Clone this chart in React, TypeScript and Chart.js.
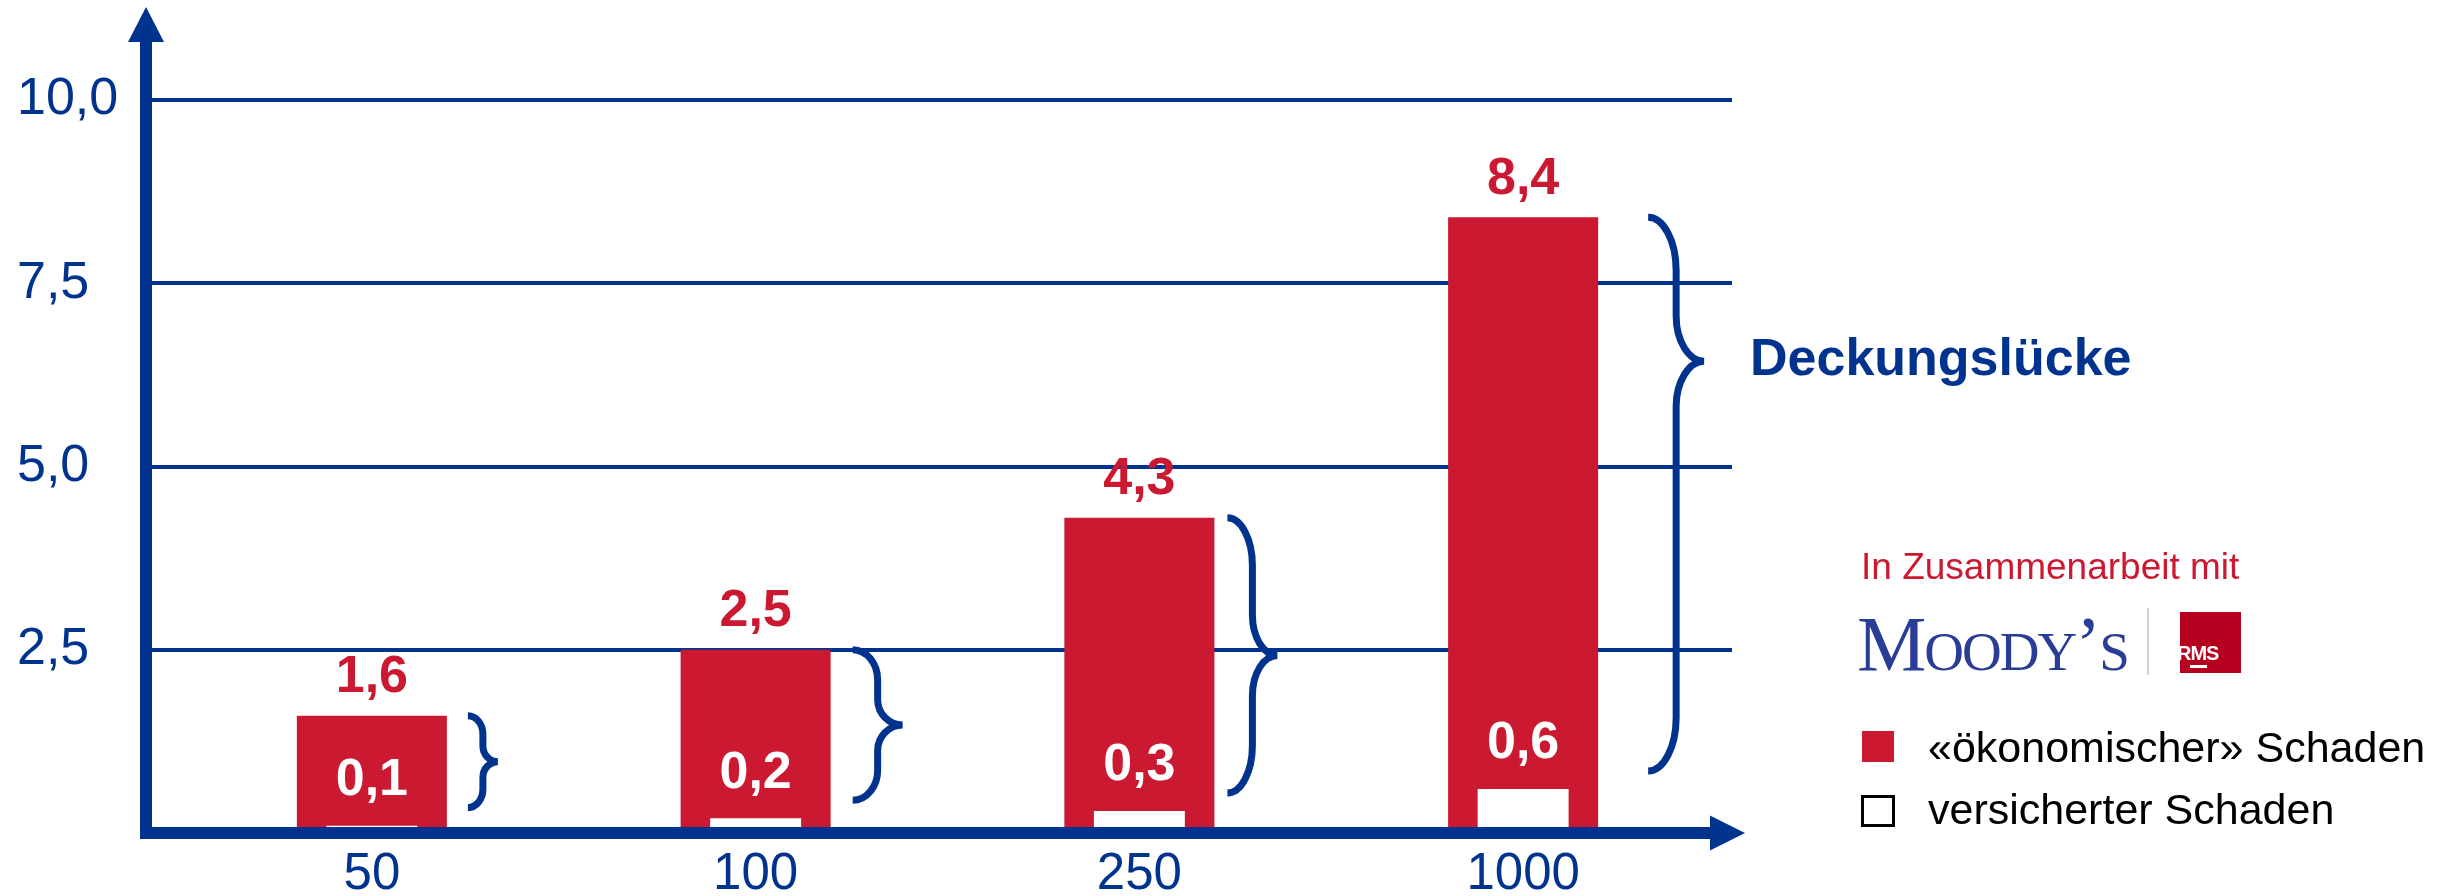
import React, { useEffect, useRef } from 'react';
import { Chart, registerables } from 'chart.js';

Chart.register(...registerables);

// ---------- data ----------
const categories = ['50', '100', '250', '1000'];
const economicLoss = [1.6, 2.5, 4.3, 8.4];
const insuredLoss = [0.1, 0.2, 0.3, 0.6];
const yMax = 10;
const yStep = 2.5;

// ---------- style ----------
const BLUE = '#00338E';
const RED = '#CB1931';
const SANS = "'Liberation Sans', Arial, Helvetica, sans-serif";
const SERIF = "'Liberation Serif', 'Times New Roman', serif";

const braceGap = [21, 22, 13, 50];
const braceWidth = [30, 50, 50, 56];
const braceTip = [0.5, 0.5, 0.5, 0.26];

const fmt = (v: number) => v.toFixed(1).replace('.', ',');

function drawBrace(ctx: CanvasRenderingContext2D, x0: number, top: number, bottom: number, w: number, tipFrac: number) {
  const xm = x0 + w * 0.5;
  const xt = x0 + w;
  const tip = top + (bottom - top) * tipFrac;
  const r1 = Math.min(w * 0.95, (tip - top) * 0.4);
  const r2 = Math.min(w * 0.95, (bottom - tip) * 0.4);
  const k = 0.55;
  ctx.beginPath();
  ctx.moveTo(x0, top);
  ctx.bezierCurveTo(x0 + (xm - x0) * k, top, xm, top + r1 * (1 - k), xm, top + r1);
  ctx.lineTo(xm, tip - r1 * 0.85);
  ctx.bezierCurveTo(xm, tip - r1 * 0.85 * (1 - k), xm + (xt - xm) * (1 - k), tip, xt, tip);
  ctx.bezierCurveTo(xm + (xt - xm) * (1 - k), tip, xm, tip + r2 * 0.85 * (1 - k), xm, tip + r2 * 0.85);
  ctx.lineTo(xm, bottom - r2);
  ctx.bezierCurveTo(xm, bottom - r2 * (1 - k), x0 + (xm - x0) * k, bottom, x0, bottom);
  ctx.stroke();
}

const decorPlugin = {
  id: 'decor',
  beforeDatasetsDraw(chart: any) {
    const { ctx, chartArea, scales } = chart;
    const y = scales.y;
    const axisX = chartArea.left - 34;
    ctx.save();
    ctx.strokeStyle = BLUE;
    ctx.lineWidth = 4;
    y.ticks.forEach((t: any) => {
      if (t.value <= 0) return;
      const py = Math.round(y.getPixelForValue(t.value));
      ctx.beginPath();
      ctx.moveTo(axisX, py);
      ctx.lineTo(chartArea.right + 17, py);
      ctx.stroke();
    });
    ctx.restore();
  },
  afterDatasetsDraw(chart: any) {
    const { ctx, chartArea, scales } = chart;
    const y0 = scales.y.getPixelForValue(0);
    const axisX = chartArea.left - 34;
    ctx.save();
    ctx.fillStyle = BLUE;
    // y axis + arrow
    const yArrowBase = chartArea.top - 58;
    ctx.fillRect(axisX - 6, yArrowBase, 12, y0 + 6 - yArrowBase);
    ctx.beginPath();
    ctx.moveTo(axisX, chartArea.top - 93);
    ctx.lineTo(axisX + 18, yArrowBase);
    ctx.lineTo(axisX - 18, yArrowBase);
    ctx.closePath();
    ctx.fill();
    // x axis + arrow
    const xArrowBase = chartArea.right - 5;
    ctx.fillRect(axisX - 6, y0 - 6, xArrowBase - (axisX - 6), 12);
    ctx.beginPath();
    ctx.moveTo(chartArea.right + 30, y0);
    ctx.lineTo(xArrowBase, y0 - 17.5);
    ctx.lineTo(xArrowBase, y0 + 17.5);
    ctx.closePath();
    ctx.fill();

    const whiteBars = chart.getDatasetMeta(0).data;
    const redBars = chart.getDatasetMeta(1).data;
    ctx.textAlign = 'center';
    ctx.textBaseline = 'middle';
    ctx.font = `bold 52px ${SANS}`;
    redBars.forEach((bar: any, i: number) => {
      const p = bar.getProps(['x', 'y', 'width'], true);
      const wp = whiteBars[i].getProps(['x', 'y', 'width'], true);
      ctx.fillStyle = RED;
      ctx.fillText(fmt(economicLoss[i]), p.x, p.y - 38);
      ctx.fillStyle = '#FFFFFF';
      ctx.fillText(fmt(insuredLoss[i]), wp.x, wp.y - 45);
      // brace
      ctx.strokeStyle = BLUE;
      ctx.lineWidth = 7;
      ctx.lineCap = 'butt';
      ctx.lineJoin = 'miter';
      drawBrace(ctx, p.x + p.width / 2 + braceGap[i], p.y, wp.y - 18, braceWidth[i], braceTip[i]);
    });
    ctx.restore();
  },
};

export default function App() {
  const canvasRef = useRef<HTMLCanvasElement | null>(null);

  useEffect(() => {
    const canvas = canvasRef.current;
    if (!canvas) return;
    const chart = new Chart(canvas, {
      type: 'bar',
      data: {
        labels: categories,
        datasets: [
          {
            label: 'versicherter Schaden',
            data: insuredLoss,
            backgroundColor: '#FFFFFF',
            borderWidth: 0,
            barPercentage: 0.237,
            categoryPercentage: 1,
            grouped: false,
            order: 0,
          },
          {
            label: '«ökonomischer» Schaden',
            data: economicLoss,
            backgroundColor: RED,
            borderWidth: 0,
            barPercentage: 0.391,
            categoryPercentage: 1,
            grouped: false,
            order: 1,
          },
        ],
      },
      options: {
        responsive: false,
        animation: false,
        devicePixelRatio: 1,
        layout: { padding: { left: 17, right: 730, top: 100, bottom: 0 } },
        plugins: {
          legend: { display: false },
          tooltip: { enabled: false },
        },
        scales: {
          x: {
            grid: { display: false, drawTicks: false },
            border: { display: false },
            ticks: {
              color: BLUE,
              font: { family: SANS, size: 51 },
              padding: 11,
              maxRotation: 0,
            },
            afterFit: (scale: any) => {
              scale.height = 63;
            },
          },
          y: {
            min: 0,
            max: yMax,
            grid: { display: false, drawTicks: false },
            border: { display: false },
            ticks: {
              stepSize: yStep,
              color: BLUE,
              font: { family: SANS, size: 52 },
              padding: 0,
              crossAlign: 'far',
              callback: (v: any) => (Number(v) === 0 ? '' : fmt(Number(v))),
            },
            afterFit: (scale: any) => {
              scale.width = 163;
            },
          },
        },
      },
      plugins: [decorPlugin],
    } as any);
    return () => chart.destroy();
  }, []);

  const abs = (s: React.CSSProperties): React.CSSProperties => ({ position: 'absolute', whiteSpace: 'nowrap', ...s });

  return (
    <div style={{ position: 'absolute', left: 0, top: 0, width: 2445, height: 896, background: '#FFFFFF', overflow: 'hidden' }}>
      <canvas ref={canvasRef} width={2445} height={896} style={{ display: 'block', width: 2445, height: 896 }} />
      <div style={abs({ left: 1750, top: 327, fontFamily: SANS, fontWeight: 'bold', fontSize: 52, lineHeight: '60px', color: BLUE })}>
        Deckungslücke
      </div>
      <div style={abs({ left: 1861, top: 547, fontFamily: SANS, fontSize: 37, lineHeight: '40px', color: RED })}>
        In Zusammenarbeit mit
      </div>
      <div style={abs({ left: 1857, top: 604, fontFamily: SERIF, fontSize: 78, lineHeight: '80px', color: '#2A3D96', fontVariant: 'small-caps', letterSpacing: -2 })}>
        Moody’s
      </div>
      <div style={abs({ left: 2147, top: 608, width: 2, height: 67, background: '#D0D0D0' })} />
      <div style={abs({ left: 2180, top: 612, width: 61, height: 61, background: '#B5001F', overflow: 'hidden' })}>
        <span style={abs({ left: -3, top: 30, fontFamily: SANS, fontWeight: 'bold', fontSize: 20, lineHeight: '22px', color: '#FFFFFF', letterSpacing: -1 })}>
          RMS
        </span>
        <div style={abs({ left: 10, top: 53, width: 17, height: 3, background: '#FFFFFF' })} />
      </div>
      <div style={abs({ left: 1862, top: 731, width: 32, height: 31, background: RED })} />
      <div style={abs({ left: 1928, top: 722, fontFamily: SANS, fontSize: 43, lineHeight: '50px', color: '#000000' })}>
        «ökonomischer» Schaden
      </div>
      <div style={abs({ left: 1861, top: 795, width: 34, height: 32, boxSizing: 'border-box', border: '3px solid #000000', background: '#FFFFFF' })} />
      <div style={abs({ left: 1928, top: 784, fontFamily: SANS, fontSize: 43, lineHeight: '50px', color: '#000000' })}>
        versicherter Schaden
      </div>
    </div>
  );
}
